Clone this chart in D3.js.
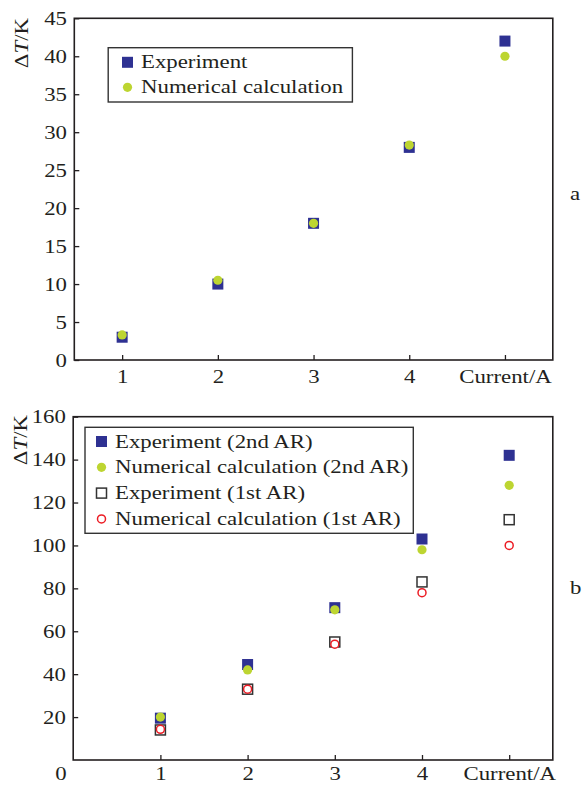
<!DOCTYPE html>
<html><head><meta charset="utf-8">
<script src="https://cdn.jsdelivr.net/npm/d3@7/dist/d3.min.js"></script>
<style>
html,body{margin:0;padding:0;background:#fff;}
svg text{font-family:"Liberation Serif","Times New Roman",serif;fill:#231f20;}
</style></head><body>
<svg id="c" width="583" height="785"></svg>
<script>
// ---- data ----
const currents = [1, 2, 3, 4, 5];
const xTickLabels = ["1", "2", "3", "4", "Current/A"];
// panel a
const expA = [3, 10, 18, 28, 42];
const numA = [3.3, 10.5, 18, 28.3, 40];
const yTicksA = [0, 5, 10, 15, 20, 25, 30, 35, 40, 45];
// panel b
const exp2nd = [19.5, 44.5, 71, 103, 142];
const num2nd = [20, 42, 70, 98, 128];
const exp1st = [14, 33, 55, 83, 112];
const num1st = [14.3, 33, 54, 78, 100];
const yTicksB = [20, 40, 60, 80, 100, 120, 140, 160];
const legendA = ["Experiment", "Numerical calculation"];
const legendB = ["Experiment (2nd AR)", "Numerical calculation (2nd AR)", "Experiment (1st AR)", "Numerical calculation (1st AR)"];

const SX = 1.17, FS = 19.5;
const NAVY = "#2e3192", GREEN = "#bdd531", RED = "#ec1c24", INK = "#231f20";
const svg = d3.select("#c");

function stext(g, x, y, str, anchor) {
  const t = g.append("g").attr("transform", `translate(${x},${y}) scale(${SX},1)`)
    .append("text").attr("font-size", FS).attr("text-anchor", anchor || "start");
  return t.text(str);
}

function marker(g, type, x, y) {
  if (type === "sq") g.append("rect").attr("x", x - 5.5).attr("y", y - 5.5).attr("width", 11).attr("height", 11).attr("fill", NAVY);
  else if (type === "dot") g.append("circle").attr("cx", x).attr("cy", y).attr("r", 4.6).attr("fill", GREEN);
  else if (type === "osq") g.append("rect").attr("x", x - 5).attr("y", y - 5).attr("width", 10).attr("height", 10).attr("fill", "#fff").attr("stroke", "#333").attr("stroke-width", 1.5);
  else if (type === "oc") g.append("circle").attr("cx", x).attr("cy", y).attr("r", 4).attr("fill", "#fff").attr("stroke", RED).attr("stroke-width", 1.5);
}

function panel(opt) {
  const g = svg.append("g");
  const x = d3.scaleLinear().domain(opt.xdom).range([opt.left, opt.right]);
  const y = d3.scaleLinear().domain(opt.ydom).range([opt.bottom, opt.top]);
  // axes
  const ax = g.append("g").attr("transform", `translate(0,${opt.bottom})`)
    .call(d3.axisBottom(x).tickValues(currents).tickFormat((d, i) => xTickLabels[i]).tickSizeInner(-5).tickSizeOuter(0).tickPadding(opt.xpad));
  ax.select(".domain").remove();
  ax.selectAll("line").attr("stroke", INK).attr("stroke-width", 1.3);
  ax.selectAll("text").attr("font-size", FS).attr("transform", `scale(${SX},1)`).attr("fill", INK);
  const ay = g.append("g").attr("transform", `translate(${opt.left},0)`)
    .call(d3.axisLeft(y).tickValues(opt.yticks).tickSizeInner(-5).tickSizeOuter(0).tickPadding(6.3));
  ay.select(".domain").remove();
  ay.selectAll("line").attr("stroke", INK).attr("stroke-width", 1.3);
  ay.selectAll("text").attr("font-size", FS).attr("transform", `scale(${SX},1)`).attr("fill", INK);
  // frame
  g.append("rect").attr("x", opt.left).attr("y", opt.top).attr("width", opt.right - opt.left)
    .attr("height", opt.bottom - opt.top).attr("fill", "none").attr("stroke", INK).attr("stroke-width", 1.6);
  // y title
  const yt = g.append("g").attr("transform", `translate(${opt.ytx},${opt.yty}) rotate(-90) scale(${SX},1)`)
    .append("text").attr("font-size", FS).attr("text-anchor", "end");
  yt.append("tspan").text("Δ");
  yt.append("tspan").attr("font-style", "italic").text("T");
  yt.append("tspan").text("/K");
  // series
  opt.series.forEach(s => {
    s.vals.forEach((v, i) => marker(g, s.type, x(currents[i]), y(v)));
  });
  // legend
  const L = opt.legend;
  g.append("rect").attr("x", L.x0).attr("y", L.y0).attr("width", L.x1 - L.x0).attr("height", L.y1 - L.y0)
    .attr("fill", "#fff").attr("stroke", "#333").attr("stroke-width", 1.4);
  opt.series.forEach((s, i) => {
    const by = L.base + i * L.step;
    marker(g, s.type, L.mx, by - 6);
    stext(g, L.tx, by, L.labels[i]);
  });
  stext(g, 570, opt.tag[1], opt.tag[0]);
  return {x, y, g};
}

panel({
  xdom: [0.5, 5.5], ydom: [0, 45], left: 74.3, right: 552.8, top: 18.3, bottom: 360, xpad: 9,
  yticks: yTicksA, ytx: 28, yty: 18,
  series: [{type: "sq", vals: expA}, {type: "dot", vals: numA}],
  legend: {x0: 108.2, x1: 352.4, y0: 47.7, y1: 102, base: 68.3, step: 25, mx: 127.5, tx: 141, labels: legendA},
  tag: ["a", 200]
});

const pb = panel({
  xdom: [0, 5.5], ydom: [0, 160], left: 73.2, right: 552.8, top: 416.7, bottom: 760, xpad: 6,
  yticks: yTicksB, ytx: 27, yty: 415,
  series: [{type: "sq", vals: exp2nd}, {type: "dot", vals: num2nd}, {type: "osq", vals: exp1st}, {type: "oc", vals: num1st}],
  legend: {x0: 85, x1: 413.3, y0: 427.3, y1: 533.3, base: 447.5, step: 25.8, mx: 101.5, tx: 115, labels: legendB},
  tag: ["b", 594]
});
stext(pb.g, 61, 779.8, "0", "middle");
</script>
</body></html>
